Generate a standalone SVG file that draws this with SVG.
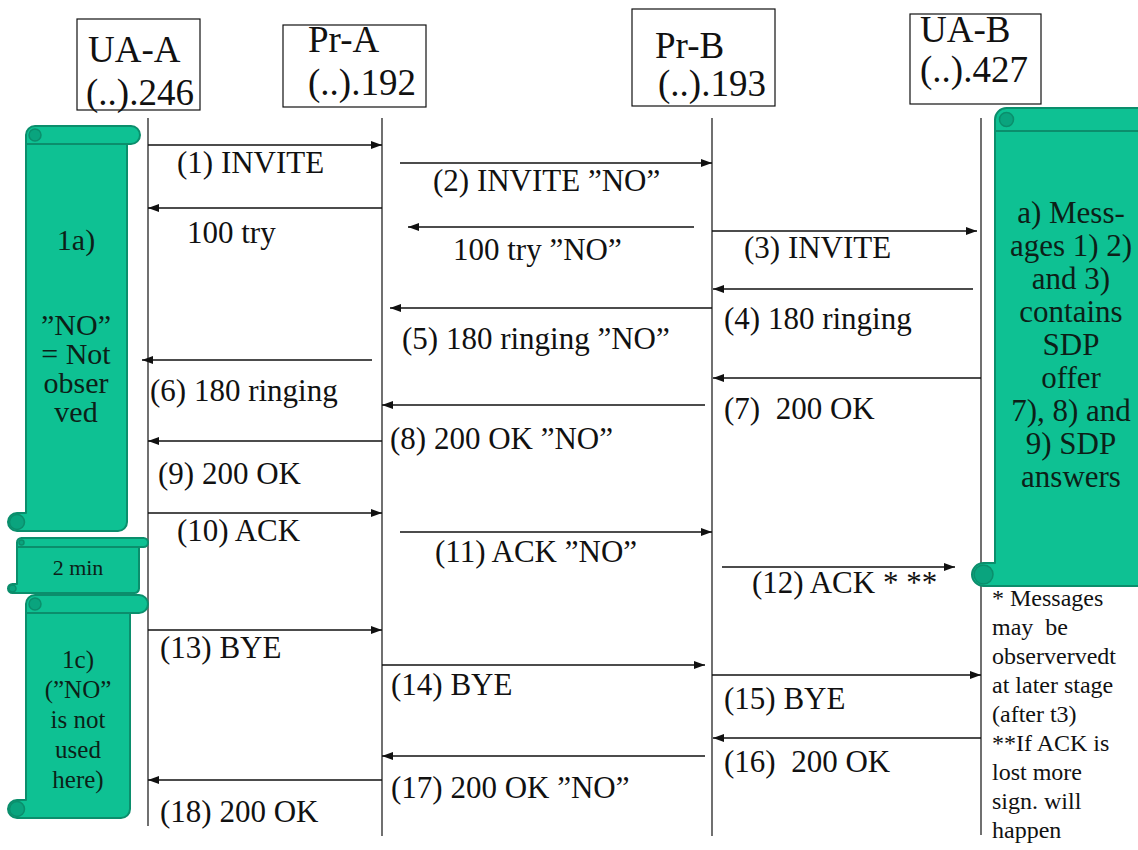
<svg xmlns="http://www.w3.org/2000/svg" width="1138" height="850" viewBox="0 0 1138 850">
<defs>
<marker id="ah" markerWidth="11" markerHeight="8" refX="11" refY="4" orient="auto" markerUnits="userSpaceOnUse"><path d="M0,0 L11,4 L0,8 z" fill="#111"/></marker>
</defs>
<style>
text{font-family:"Liberation Serif","Times New Roman",serif}
.t{fill:#111}
.m{font-size:31px}
.h{font-size:37px}
.n{font-size:24px}
.box{fill:#fff;stroke:#111;stroke-width:1.2}
.life{stroke:#111;stroke-width:1.2;fill:none}
.msg{stroke:#111;stroke-width:1.4;fill:none;marker-end:url(#ah)}
.scr{fill:#0EC193;stroke:#0B8E6C;stroke-width:2;stroke-linejoin:round}
.rl{fill:none;stroke:#0B8E6C;stroke-width:2}
.curl{fill:#0AA47E;stroke:#0B8E6C;stroke-width:1.5}
.st{fill:#0c1f18;text-anchor:middle}
</style>
<rect width="1138" height="850" fill="#fff"/>

<g id="lifelines">
<path class="life" d="M148,118 V826"/>
<path class="life" d="M382,118 V836"/>
<path class="life" d="M712,118 V836"/>
<path class="life" d="M981,118 V835"/>
</g>

<g id="ua-a">
<rect class="box" x="77" y="19" width="123" height="91"/>
<text class="t h" x="88" y="62">UA-A</text>
<text class="t h" x="86" y="105">(..).246</text>
</g>
<g id="pr-a">
<rect class="box" x="283" y="25" width="143" height="82"/>
<text class="t h" x="308" y="52">Pr-A</text>
<text class="t h" x="308" y="95">(..).192</text>
</g>
<g id="pr-b">
<rect class="box" x="632" y="9" width="143" height="97"/>
<text class="t h" x="655" y="58">Pr-B</text>
<text class="t h" x="658" y="96">(..).193</text>
</g>
<g id="ua-b">
<rect class="box" x="910" y="14" width="131" height="90"/>
<text class="t h" x="920" y="42">UA-B</text>
<text class="t h" x="920" y="82">(..).427</text>
</g>

<g id="connectors">
<path class="msg" d="M148,145 H382"/>
<path class="msg" d="M400,163 H712"/>
<path class="msg" d="M382,208 H148"/>
<path class="msg" d="M694,227 H408"/>
<path class="msg" d="M712,231 H977"/>
<path class="msg" d="M973,289 H713"/>
<path class="msg" d="M712,308 H390"/>
<path class="msg" d="M372,360 H142"/>
<path class="msg" d="M981,378 H713"/>
<path class="msg" d="M705,405 H382"/>
<path class="msg" d="M382,441 H148"/>
<path class="msg" d="M148,513 H382"/>
<path class="msg" d="M400,532 H712"/>
<path class="msg" d="M722,567 H955"/>
<path class="msg" d="M148,630 H382"/>
<path class="msg" d="M382,665 H705"/>
<path class="msg" d="M712,675 H981"/>
<path class="msg" d="M981,738 H713"/>
<path class="msg" d="M705,756 H382"/>
<path class="msg" d="M382,780 H148"/>
</g>

<g id="labels">
<text class="t m" x="177" y="173">(1) INVITE</text>
<text class="t m" x="433" y="191">(2) INVITE ”NO”</text>
<text class="t m" x="187" y="243">100 try</text>
<text class="t m" x="453" y="260">100 try ”NO”</text>
<text class="t m" x="744" y="258">(3) INVITE</text>
<text class="t m" x="724" y="329">(4) 180 ringing</text>
<text class="t m" x="402" y="349">(5) 180 ringing ”NO”</text>
<text class="t m" x="150" y="401">(6) 180 ringing</text>
<text class="t m" x="724" y="419" xml:space="preserve">(7)  200 OK</text>
<text class="t m" x="390" y="449">(8) 200 OK ”NO”</text>
<text class="t m" x="158" y="484">(9) 200 OK</text>
<text class="t m" x="177" y="541">(10) ACK</text>
<text class="t m" x="435" y="562">(11) ACK ”NO”</text>
<text class="t m" x="752" y="593">(12) ACK * **</text>
<text class="t m" x="160" y="658">(13) BYE</text>
<text class="t m" x="391" y="695">(14) BYE</text>
<text class="t m" x="724" y="709">(15) BYE</text>
<text class="t m" x="724" y="772" xml:space="preserve">(16)  200 OK</text>
<text class="t m" x="391" y="798">(17) 200 OK ”NO”</text>
<text class="t m" x="160" y="822">(18) 200 OK</text>
</g>

<g id="scroll-1a">
<path class="scr" d="M26,135 A9,9 0 0 1 35,126 L131,126 A9,9 0 0 1 131,144 L127,144 L127,522 A9,9 0 0 1 118,531 L17,531 A9,9 0 0 1 17,513 L26,513 Z"/>
<path class="rl" d="M26,144 H127"/>
<circle class="curl" cx="35" cy="135" r="6"/>
<circle class="curl" cx="17" cy="522" r="7.5"/>
<text class="st" font-size="30" x="76" y="250">1a)</text>
<text class="st" font-size="30" x="76" y="335">”NO”</text>
<text class="st" font-size="30" x="76" y="364">= Not</text>
<text class="st" font-size="30" x="76" y="393">obser</text>
<text class="st" font-size="30" x="76" y="422">ved</text>
</g>

<g id="scroll-2min">
<path class="scr" d="M17,542.5 A4.5,4.5 0 0 1 21.5,538 L143.5,538 A4.5,4.5 0 0 1 143.5,547 L139,547 L139,588.5 A4.5,4.5 0 0 1 134.5,593 L12.5,593 A4.5,4.5 0 0 1 12.5,584 L17,584 Z"/>
<path class="rl" d="M17,547 H139"/>
<circle class="curl" cx="21.5" cy="542.5" r="2.5"/>
<circle class="curl" cx="12.5" cy="588.5" r="3.5"/>
<text class="st" font-size="22" x="78" y="575">2 min</text>
</g>

<g id="scroll-1c">
<path class="scr" d="M26,604 A9,9 0 0 1 35,595 L139,595 A9,9 0 0 1 139,613 L130,613 L130,809 A9,9 0 0 1 121,818 L17,818 A9,9 0 0 1 17,800 L26,800 Z"/>
<path class="rl" d="M26,613 H130"/>
<circle class="curl" cx="35" cy="604" r="6"/>
<circle class="curl" cx="17" cy="809" r="7.5"/>
<text class="st" font-size="25" x="78" y="668">1c)</text>
<text class="st" font-size="25" x="78" y="698">(”NO”</text>
<text class="st" font-size="25" x="78" y="728">is not</text>
<text class="st" font-size="25" x="78" y="758">used</text>
<text class="st" font-size="25" x="78" y="788">here)</text>
</g>

<g id="scroll-a">
<path class="scr" d="M995,119.5 A11.5,11.5 0 0 1 1006.5,108 L1163.5,108 A11.5,11.5 0 0 1 1163.5,131 L1152,131 L1152,574.5 A11.5,11.5 0 0 1 1140.5,586 L983.5,586 A11.5,11.5 0 0 1 983.5,563 L995,563 Z"/>
<path class="rl" d="M995,131 H1152"/>
<circle class="curl" cx="1006.5" cy="119.5" r="7"/>
<circle class="curl" cx="983.5" cy="574.5" r="9.5"/>
<text class="st" font-size="31" x="1071" y="223">a) Mess-</text>
<text class="st" font-size="31" x="1071" y="256">ages 1) 2)</text>
<text class="st" font-size="31" x="1071" y="289">and 3)</text>
<text class="st" font-size="31" x="1071" y="322">contains</text>
<text class="st" font-size="31" x="1071" y="355">SDP</text>
<text class="st" font-size="31" x="1071" y="388">offer</text>
<text class="st" font-size="31" x="1071" y="421">7), 8) and</text>
<text class="st" font-size="31" x="1071" y="454">9) SDP</text>
<text class="st" font-size="31" x="1071" y="487">answers</text>
</g>

<g id="note">
<text class="t n" x="992" y="606">* Messages</text>
<text class="t n" x="992" y="635" xml:space="preserve">may  be</text>
<text class="t n" x="992" y="664">observervedt</text>
<text class="t n" x="992" y="693">at later stage</text>
<text class="t n" x="992" y="722">(after t3)</text>
<text class="t n" x="992" y="751">**If ACK is</text>
<text class="t n" x="992" y="780">lost more</text>
<text class="t n" x="992" y="809">sign. will</text>
<text class="t n" x="992" y="838">happen</text>
</g>
</svg>
